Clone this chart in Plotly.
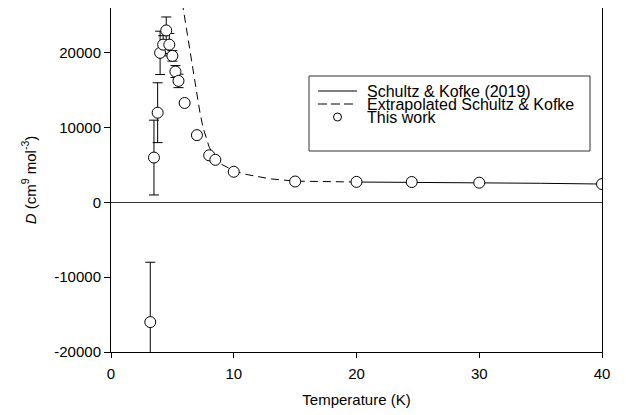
import plotly.graph_objects as go
import numpy as np

# ---- data ----
T_this = [3.2, 3.5, 3.8, 4.0, 4.25, 4.5, 4.75, 5.0, 5.25, 5.5, 6.0, 7.0, 8.0, 8.5, 10, 15, 20, 24.5, 30, 40]
D_this = [-16000, 6000, 12000, 20000, 21100, 23000, 21100, 19600, 17500, 16250, 13300, 9000, 6300, 5700, 4100, 2800, 2750, 2730, 2640, 2460]
D_err = [8000, 5000, 4000, 2900, 1200, 1800, 1500, 700, 800, 900,
         None, None, None, None, None, None, None, None, None, None]

T_sk = [20, 25, 30, 35, 40]
D_sk = [2730, 2700, 2640, 2560, 2460]

T_ext = [5.8, 6.0, 6.25, 6.5, 6.75, 7.0, 7.25, 7.5, 8.0, 8.5, 9.0, 10, 11, 12, 13, 15, 17.5, 20]
D_ext = [26800, 24800, 22600, 20000, 17300, 14500, 12000, 10000, 7400, 6000, 5100, 4250, 3750, 3400, 3150, 2850, 2760, 2730]

x_ticks = [0, 10, 20, 30, 40]
y_ticks = [-20000, -10000, 0, 10000, 20000]
y_ticktext = ["-20000", "-10000", "0", "10000", "20000"]

legend_labels = ["Schultz & Kofke (2019)", "Extrapolated Schultz & Kofke", "This work"]

FONT = "Liberation Sans, Arial, sans-serif"

err_arr = [np.nan if e is None else e for e in D_err]

fig = go.Figure()
fig.add_trace(go.Scatter(x=T_sk, y=D_sk, mode="lines", name=legend_labels[0],
                         line=dict(color="black", width=1), showlegend=False))
fig.add_trace(go.Scatter(x=T_ext, y=D_ext, mode="lines", name=legend_labels[1],
                         line=dict(color="black", width=1, dash="8px,5px"), showlegend=False))
fig.add_trace(go.Scatter(x=T_this, y=D_this, mode="markers", name=legend_labels[2],
                         marker=dict(symbol="circle", size=11, color="white",
                                     line=dict(color="black", width=1)),
                         error_y=dict(type="data", array=err_arr, symmetric=True,
                                      color="black", thickness=1, width=5),
                         showlegend=False))

# ---- page offset (browser body margin) and plot area ----
OFF = 8
L, R, TOP, BOT = 103, 32, 0, 71
W, H = 626 - L - R, 415 - TOP - BOT


def px(x):
    # page pixel -> paper fraction
    return (x - OFF - L) / W


def py(y):
    return (415 - BOT - (y - OFF)) / H


shapes = [
    dict(type="rect", xref="paper", yref="paper", x0=px(309), x1=px(590), y0=py(151), y1=py(76),
         line=dict(color="#333333", width=1), fillcolor="rgba(0,0,0,0)"),
    dict(type="line", xref="paper", yref="paper", x0=px(318), x1=px(357), y0=py(91), y1=py(91),
         line=dict(color="black", width=1)),
    dict(type="line", xref="paper", yref="paper", x0=px(318), x1=px(357), y0=py(104), y1=py(104),
         line=dict(color="black", width=1, dash="9px,4px")),
    dict(type="circle", xref="paper", yref="paper", xsizemode="pixel", ysizemode="pixel",
         xanchor=px(337.5), yanchor=py(117), x0=-4, x1=4, y0=-4, y1=4,
         line=dict(color="black", width=1), fillcolor="white"),
]
annotations = []
for lab, yy in zip(legend_labels, [91, 104, 117]):
    annotations.append(dict(text=lab, xref="paper", yref="paper", x=px(365), y=py(yy),
                            xanchor="left", yanchor="middle", showarrow=False,
                            font=dict(family=FONT, size=16, color="black")))

fig.update_layout(
    width=626, height=415,
    margin=dict(l=L, r=R, t=TOP, b=BOT, autoexpand=False),
    paper_bgcolor="white", plot_bgcolor="white",
    font=dict(family=FONT, size=15, color="black"),
    shapes=shapes, annotations=annotations,
    showlegend=False,
)
fig.update_xaxes(range=[0, 40], tickvals=x_ticks, ticks="outside", ticklen=5, tickcolor="black",
                 showline=True, linecolor="black", linewidth=1, mirror=True,
                 showgrid=False, zeroline=False, automargin=False,
                 ticklabelstandoff=3,
                 title=dict(text="Temperature (K)", standoff=13, font=dict(family=FONT, size=15)),
                 tickfont=dict(family=FONT, size=15))
fig.update_yaxes(range=[-20000, 26000], tickvals=y_ticks, ticktext=y_ticktext,
                 ticks="outside", ticklen=6, tickcolor="black",
                 showline=True, linecolor="black", linewidth=1, mirror=True,
                 showgrid=False, zeroline=True, zerolinecolor="#333333", zerolinewidth=1,
                 automargin=False,
                 title=dict(text="<i>D</i> (cm<sup>9</sup> mol<sup>-3</sup>)", standoff=14,
                            font=dict(family=FONT, size=15)),
                 tickfont=dict(family=FONT, size=15))

fig.write_html("out.html")
